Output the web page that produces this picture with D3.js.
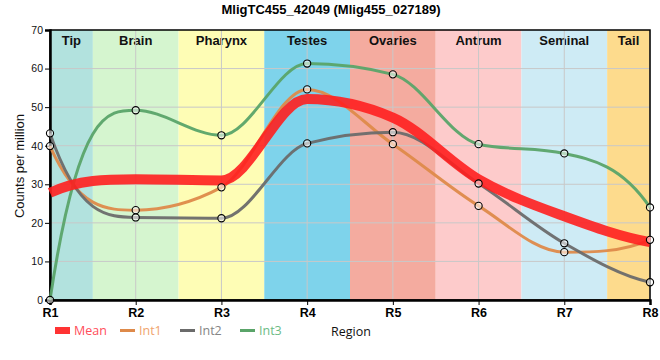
<!DOCTYPE html>
<html>
<head>
<meta charset="utf-8">
<script src="https://cdn.jsdelivr.net/npm/d3@7"></script>
<style>
  html, body { margin: 0; padding: 0; background: #fff; }
  svg { display: block; }
</style>
</head>
<body>
<svg id="chart" width="660" height="360"></svg>
<script>
// ---------- data ----------
const title = "MligTC455_42049 (Mlig455_027189)";
const categories = ["R1", "R2", "R3", "R4", "R5", "R6", "R7", "R8"];
const regions = ["Tip", "Brain", "Pharynx", "Testes", "Ovaries", "Antrum", "Seminal", "Tail"];
const regionColors = ["#b2e2de", "#d5f5cf", "#fefdb5", "#7ed3eb", "#f4ab9f", "#fdcbcb", "#ceebf5", "#fddb8d"];
const meanValues = [27.8, 31.3, 31.0, 52.1, 47.3, 31.3, 21.7, 15.0];
const int1Values = [39.9, 23.3, 29.2, 54.6, 40.4, 24.4, 12.4, 15.6];
const int2Values = [43.2, 21.4, 21.2, 40.6, 43.5, 30.2, 14.7, 4.6];
const int3Values = [0.0, 49.2, 42.7, 61.3, 58.5, 40.4, 38.0, 24.0];
const yTicks = [0, 10, 20, 30, 40, 50, 60, 70];
const seriesNames = ["Mean", "Int1", "Int2", "Int3"];
const seriesColors = ["#ff1f1f", "#de8a4a", "#6b6b6b", "#5aa469"];
const legendTextColors = ["#ff4d5a", "#f0a46e", "#858585", "#6dbb85"];
const yLabel = "Counts per million";
const xLabel = "Region";

// ---------- layout ----------
const L = 50, R = 650, T = 30, B = 300;
const svg = d3.select("#chart");
const x = d3.scalePoint().domain(categories).range([L, R]);
const y = d3.scaleLinear().domain([0, 70]).range([B, T]);
const step = x.step();

// custom monotone-like cubic curve
function curveSmooth(context) {
  let pts = [];
  return {
    areaStart() {}, areaEnd() {},
    lineStart() { pts = []; },
    point(px, py) { pts.push([+px, +py]); },
    lineEnd() {
      const n = pts.length;
      if (!n) return;
      context.moveTo(pts[0][0], pts[0][1]);
      if (n === 1) return;
      const h = [], s = [];
      for (let i = 0; i < n - 1; i++) {
        h[i] = pts[i + 1][0] - pts[i][0];
        s[i] = (pts[i + 1][1] - pts[i][1]) / h[i];
      }
      const t = new Array(n).fill(0);
      for (let i = 1; i < n - 1; i++) {
        if (s[i - 1] * s[i] <= 0) t[i] = 0;
        else {
          const q = (s[i - 1] * h[i] + s[i] * h[i - 1]) / (h[i - 1] + h[i]);
          t[i] = (Math.sign(s[i - 1]) + Math.sign(s[i])) *
            Math.min(Math.abs(s[i - 1]), Math.abs(s[i]), 0.5 * Math.abs(q));
        }
      }
      if (n > 2) {
        t[0] = 3 * s[0] - 2 * t[1];
        t[n - 1] = 3 * s[n - 2] - 2 * t[n - 2];
      } else { t[0] = t[1] = s[0]; }
      for (let i = 0; i < n - 1; i++) {
        const dx = h[i] / 3;
        context.bezierCurveTo(pts[i][0] + dx, pts[i][1] + dx * t[i],
          pts[i + 1][0] - dx, pts[i + 1][1] - dx * t[i + 1],
          pts[i + 1][0], pts[i + 1][1]);
      }
    }
  };
}

// ---------- bands ----------
const bands = svg.append("g");
regions.forEach((name, i) => {
  const cx = x(categories[i]);
  const x0 = Math.max(L, cx - step / 2), x1 = Math.min(R, cx + step / 2);
  bands.append("rect").attr("x", x0).attr("y", T).attr("width", x1 - x0).attr("height", B - T)
    .attr("fill", regionColors[i]);
  bands.append("text").attr("x", (x0 + x1) / 2).attr("y", T + 14.5)
    .attr("text-anchor", "middle")
    .style("font", "bold 13px 'Liberation Sans', Arial, sans-serif")
    .attr("fill", "#111").text(name);
});

// ---------- grid ----------
const grid = svg.append("g").attr("stroke", "#c8c8c8").attr("stroke-width", 1);
yTicks.filter(v => v > 0 && v < 70).forEach(v => {
  grid.append("line").attr("x1", L).attr("x2", R).attr("y1", y(v)).attr("y2", y(v));
});
categories.forEach(c => {
  grid.append("line").attr("x1", x(c)).attr("x2", x(c)).attr("y1", T).attr("y2", B);
});

// ---------- frame & axes ----------
svg.append("rect").attr("x", L).attr("y", T).attr("width", R - L).attr("height", B - T)
  .attr("fill", "none").attr("stroke", "#000").attr("stroke-width", 1.5);

const yAxis = svg.append("g").attr("transform", `translate(${L},0)`)
  .call(d3.axisLeft(y).tickValues(yTicks).tickSize(5).tickPadding(2).tickFormat(d3.format("d")));
yAxis.select(".domain").attr("stroke-width", 2.5);
yAxis.selectAll("text").style("font", "10.5px 'Liberation Sans', Arial, sans-serif").attr("fill", "#111");

const xAxis = svg.append("g").attr("transform", `translate(0,${B})`)
  .call(d3.axisBottom(x).tickSize(5).tickPadding(3));
xAxis.select(".domain").attr("stroke-width", 2.5);
xAxis.selectAll("text").style("font", "bold 12.5px 'Liberation Sans', Arial, sans-serif").attr("fill", "#000");

// ---------- lines ----------
const line = d3.line().x((d, i) => x(categories[i])).y(d => y(d)).curve(curveSmooth);
const seriesData = [meanValues, int1Values, int2Values, int3Values];
[1, 2, 3].forEach(k => {
  svg.append("path").attr("d", line(seriesData[k])).attr("fill", "none")
    .attr("stroke", seriesColors[k]).attr("stroke-width", 3).attr("stroke-opacity", 0.95);
});
svg.append("path").attr("d", line(meanValues)).attr("fill", "none")
  .attr("stroke", seriesColors[0]).attr("stroke-width", 10).attr("stroke-opacity", 0.9);

[1, 2, 3].forEach(k => {
  svg.append("g").selectAll("circle").data(seriesData[k]).join("circle")
    .attr("cx", (d, i) => x(categories[i])).attr("cy", d => y(d)).attr("r", 3.6)
    .attr("fill", "#fff").attr("fill-opacity", 0.55)
    .attr("stroke", "#000").attr("stroke-width", 1.1);
});

// ---------- titles ----------
svg.append("text").attr("x", 331).attr("y", 14).attr("text-anchor", "middle")
  .style("font", "bold 13px 'Liberation Sans', Arial, sans-serif").text(title);
svg.append("text").attr("transform", "translate(24,166) rotate(-90)").attr("text-anchor", "middle")
  .style("font", "13px 'Liberation Sans', Arial, sans-serif").attr("fill", "#111").text(yLabel);
svg.append("text").attr("x", 351).attr("y", 336).attr("text-anchor", "middle")
  .style("font", "12.5px 'Open Sans', sans-serif").attr("fill", "#111").text(xLabel);

// ---------- legend ----------
const legendX = [55, 120, 180, 240];
const lg = svg.append("g");
seriesNames.forEach((name, k) => {
  const lx = legendX[k];
  if (k === 0) {
    lg.append("rect").attr("x", lx).attr("y", 327).attr("width", 15).attr("height", 7)
      .attr("fill", "#ff3333");
  } else {
    lg.append("line").attr("x1", lx).attr("x2", lx + 15).attr("y1", 330.5).attr("y2", 330.5)
      .attr("stroke", seriesColors[k]).attr("stroke-width", 3);
  }
  lg.append("text").attr("x", lx + 19).attr("y", 335)
    .style("font", "12.5px 'Open Sans', sans-serif").attr("fill", legendTextColors[k]).text(name);
});
</script>
</body>
</html>
